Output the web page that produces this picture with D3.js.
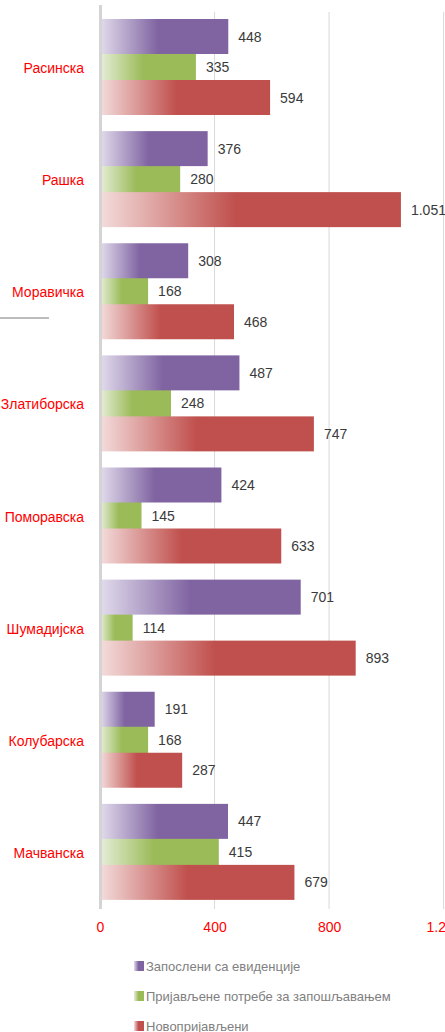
<!DOCTYPE html>
<html>
<head>
<meta charset="utf-8">
<script src="https://cdn.jsdelivr.net/npm/d3@7"></script>
<style>
  body { margin: 0; background: #fff; }
  svg { display: block; font-family: "Liberation Sans", Arial, sans-serif; }
</style>
</head>
<body>
<div id="chart"></div>
<script>
const categories = ['Расинска', 'Рашка', 'Моравичка', 'Златиборска', 'Поморавска', 'Шумадијска', 'Колубарска', 'Мачванска'];
const seriesNames = ['Запослени са евиденције', 'Пријављене потребе за запошљавањем', 'Новопријављени'];
const zaposleni = [448, 376, 308, 487, 424, 701, 191, 447];
const potrebe = [335, 280, 168, 248, 145, 114, 168, 415];
const novoprijavljeni = [594, 1051, 468, 747, 633, 893, 287, 679];
const xTicks = [0, 400, 800, 1200];

const colors = ['#8064a2', '#9bbb59', '#c0504d'];
const lightColors = ['#e2dcec', '#e6eed8', '#f3dddc'];

const width = 445, height = 1032;
const fmt = d3.formatLocale({decimal: ',', thousands: '.', grouping: [3], currency: ['', '']}).format(',d');

const svg = d3.select('#chart').append('svg')
    .attr('width', width)
    .attr('height', height);

const defs = svg.append('defs');
colors.forEach((c, i) => {
    const g = defs.append('linearGradient')
        .attr('id', 'grad' + i)
        .attr('x1', '0').attr('x2', '1').attr('y1', '0').attr('y2', '0');
    g.append('stop').attr('offset', '0').attr('stop-color', lightColors[i]);
    g.append('stop').attr('offset', '0.45').attr('stop-color', c);
    g.append('stop').attr('offset', '1').attr('stop-color', c);
});

const x = d3.scaleLinear().domain([0, 1200]).range([100, 443.6]);
const y = d3.scaleBand().domain(categories).range([12, 909]).paddingInner(0);

// gridlines
svg.append('g')
    .selectAll('line')
    .data(xTicks.slice(1))
    .enter().append('line')
    .attr('x1', d => x(d)).attr('x2', d => x(d))
    .attr('y1', 12).attr('y2', 909)
    .attr('stroke', '#d9d9d9')
    .attr('stroke-width', 1);

const series = [zaposleni, potrebe, novoprijavljeni];
const rows = [];
series.forEach((vals, s) => {
    vals.forEach((v, i) => rows.push({s, cat: categories[i], v}));
});

const barH = 35, offsets = [7, 37.5, 68];
// green goes first so purple sits over it, red on top
const drawOrder = [1, 0, 2];
const bars = svg.append('g');
drawOrder.forEach(s => {
    bars.selectAll('.bar' + s)
        .data(rows.filter(r => r.s === s))
        .enter().append('rect')
        .attr('class', 'bar' + s)
        .attr('x', x(0))
        .attr('y', d => y(d.cat) + offsets[s])
        .attr('width', d => x(d.v) - x(0))
        .attr('height', barH)
        .attr('fill', 'url(#grad' + s + ')');
});

// left axis line
svg.append('line')
    .attr('x1', 100.5).attr('x2', 100.5)
    .attr('y1', 5).attr('y2', 909)
    .attr('stroke', '#d4d4d4')
    .attr('stroke-width', 3);

// value labels
svg.append('g')
    .selectAll('text')
    .data(rows)
    .enter().append('text')
    .attr('x', d => x(d.v) + 10)
    .attr('y', d => y(d.cat) + offsets[d.s] + barH / 2)
    .attr('dy', '0.36em')
    .attr('font-size', 14)
    .attr('fill', '#3a3a3a')
    .text(d => fmt(d.v));

// category labels
svg.append('g')
    .selectAll('text')
    .data(categories)
    .enter().append('text')
    .attr('x', 84)
    .attr('y', d => y(d) + y.bandwidth() / 2)
    .attr('dy', '0.36em')
    .attr('text-anchor', 'end')
    .attr('font-size', 14)
    .attr('fill', '#ff0000')
    .text(d => d);

// x axis tick labels
const xAxis = d3.axisBottom(x).tickValues(xTicks).tickSize(0).tickPadding(0)
    .tickFormat(d => fmt(d));
const ax = svg.append('g')
    .attr('transform', 'translate(0,922)')
    .call(xAxis);
ax.select('.domain').remove();
ax.selectAll('text')
    .attr('font-size', 14)
    .attr('font-family', '"Liberation Sans", Arial, sans-serif')
    .attr('fill', '#ff0000');

// stray line on the left
svg.append('line')
    .attr('x1', 0).attr('x2', 49)
    .attr('y1', 318).attr('y2', 318)
    .attr('stroke', '#a6a6a6')
    .attr('stroke-width', 1.5);

// legend
const legend = svg.append('g');
seriesNames.forEach((name, i) => {
    const ly = 966 + i * 30;
    legend.append('rect')
        .attr('x', 134).attr('y', ly - 5)
        .attr('width', 10).attr('height', 10)
        .attr('fill', 'url(#grad' + i + ')');
    legend.append('text')
        .attr('x', 146).attr('y', ly)
        .attr('dy', '0.36em')
        .attr('font-size', 13)
        .attr('fill', '#808080')
        .text(name);
});
</script>
</body>
</html>
